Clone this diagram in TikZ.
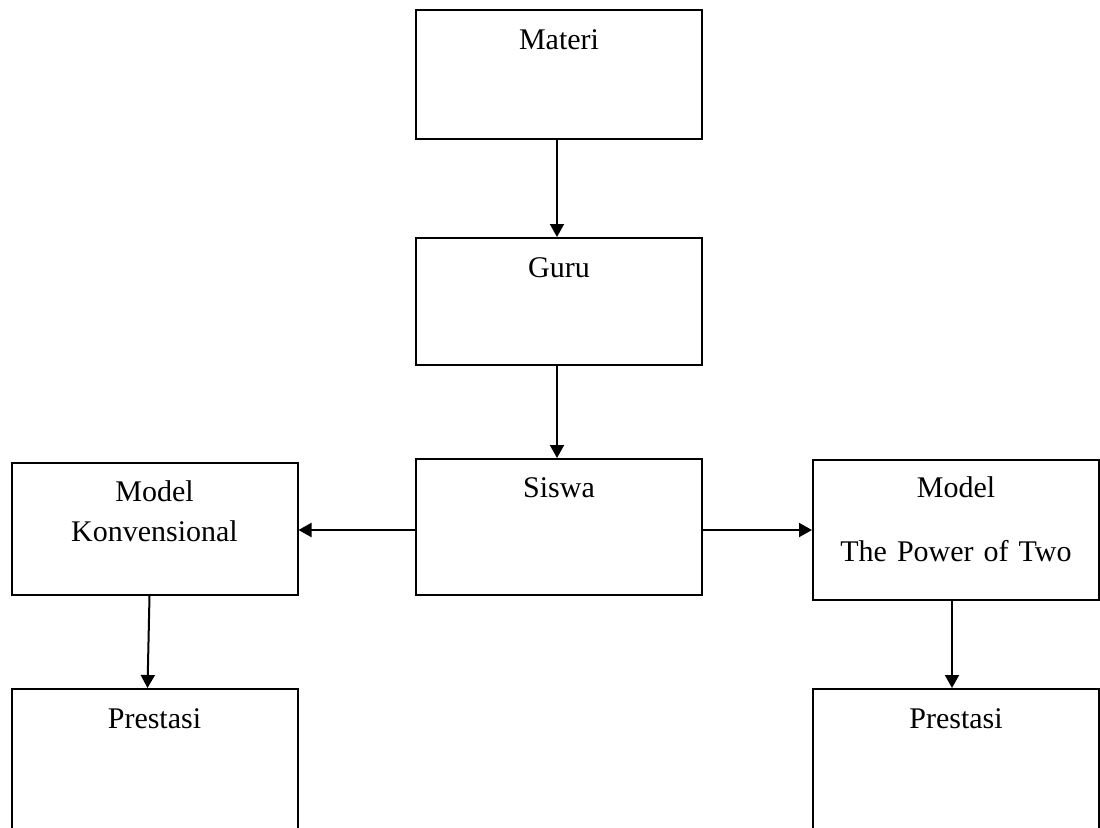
\documentclass[tikz,border=0pt]{standalone}
\usepackage{fontspec}
\setmainfont{Liberation Serif}
\usetikzlibrary{arrows.meta}

\begin{document}
\begin{tikzpicture}[x=0.5pt,y=-0.5pt,line width=1pt,
  kotak/.style={draw,anchor=north,inner sep=0pt,text width=143pt,align=center,
    font=\fontsize{15}{20}\selectfont},
  panah/.style={-{Triangle[length=6.5pt,width=7pt]}}]
\useasboundingbox (0,0) rectangle (1100,827);
  \node (materi) at (559,9) [kotak,text height=19.5pt,text depth=45pt] {Materi};
  \node (guru) at (559,237) [kotak,text height=19.5pt,text depth=44pt] {Guru};
  \node (siswa) at (559,458) [kotak,text height=19pt,text depth=49pt] {Siswa};
  \node (konv) at (154.5,462) [kotak,text height=19pt,text depth=47pt] {Model\\Konvensional};
  \node (power) at (956,459) [kotak,text height=18.5pt,text depth=51.5pt] {Model\\[12pt]The Power of Two};
  \node (prestasiA) at (154.5,688) [kotak,text height=19.5pt,text depth=70pt] {Prestasi};
  \node (prestasiB) at (956,688) [kotak,text height=19.5pt,text depth=70pt] {Prestasi};
  \draw [panah] ([xshift=-1pt]materi.south) -- ([xshift=-1pt]guru.north);
  \draw [panah] ([xshift=-1pt]guru.south) -- ([xshift=-1pt]siswa.north);
  \draw [panah] ([yshift=-1.5pt]siswa.west) -- ([yshift=-1.5pt]siswa.west -| konv.east);
  \draw [panah] ([yshift=-1.5pt]siswa.east) -- ([yshift=-1.5pt]siswa.east -| power.west);
  \draw [panah] ([xshift=-2.5pt]konv.south) -- ([xshift=-3.5pt]prestasiA.north);
  \draw [panah] ([xshift=-2pt]power.south) -- ([xshift=-2pt]prestasiB.north);
\end{tikzpicture}
\end{document}
